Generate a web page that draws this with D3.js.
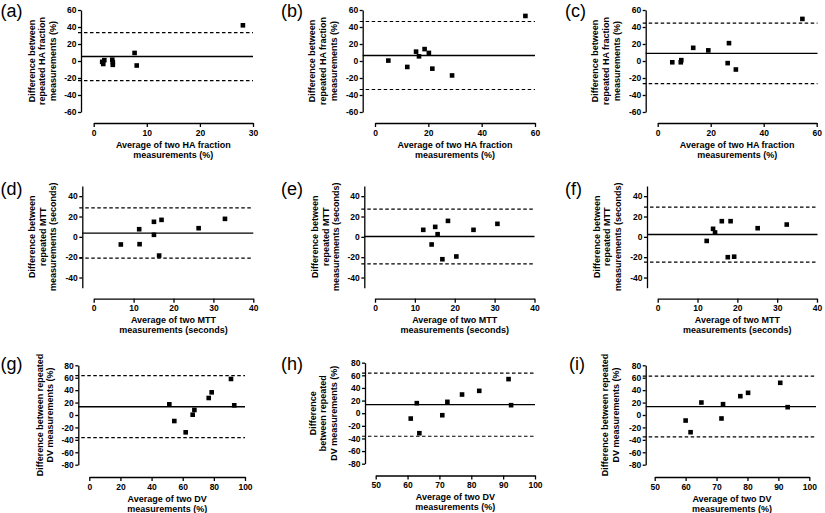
<!DOCTYPE html>
<html><head><meta charset="utf-8">
<script src="https://cdn.jsdelivr.net/npm/d3@7"></script>
<style>
body{margin:0;background:#fff}
svg{display:block}
text{font-family:"Liberation Sans",Arial,Helvetica,sans-serif;fill:#000}
</style>
</head><body>
<svg width="825" height="513"></svg>
<script>
// ---------------- DATA ----------------
const panelLabels = ["(a)","(b)","(c)","(d)","(e)","(f)","(g)","(h)","(i)"];

const aX = [1.6, 1.8, 2.0, 3.5, 3.6, 3.6, 7.7, 8.1, 28.1];
const aY = [-1, -3.5, 1, 1.5, -1.5, -4.5, 9.5, -5.3, 42];
const bX = [5.0, 12.1, 15.4, 16.5, 18.6, 20.2, 21.5, 28.9, 56.4];
const bY = [0.5, -7, 11, 5.5, 14, 9.5, -9, -17, 53];
const cX = [5.5, 8.7, 8.9, 13.4, 19.1, 26.4, 26.9, 29.5, 54.6];
const cY = [-1.5, -1.5, 1, 15.5, 12.5, -2.5, 21, -10, 49.5];
const dX = [6.8, 11.4, 11.5, 15.1, 15.1, 17.0, 16.4, 26.3, 32.9];
const dY = [-7.5, 7.5, -7.2, 14.8, 2, 16.7, -18.4, 8.5, 17.7];
const eX = [12.1, 15.1, 15.7, 14.2, 18.3, 16.9, 20.4, 24.7, 30.7];
const eY = [6.9, 9.8, 2.6, -7.5, 15.7, -22, -19.3, 6.9, 12.8];
const fX = [12.3, 13.9, 14.4, 16.1, 18.3, 17.6, 19.2, 25.1, 32.4];
const fY = [-4, 7.9, 4.3, 15.4, 15.4, -20, -19.5, 8.5, 12.1];
const gX = [51.4, 54.6, 61.9, 66.4, 67.5, 76.7, 78.6, 91.0, 93.1];
const gY = [17.2, -9.7, -27.9, 0.5, 8.1, 27.4, 36.5, 58, 15.6];
const hX = [61.0, 62.9, 63.7, 70.9, 72.5, 77.1, 82.5, 91.7, 92.5];
const hY = [-8.5, 15.9, -31.7, -3.2, 18, 29.6, 35.4, 54, 12.7];
const iX = [60.0, 61.6, 65.1, 71.6, 72.1, 77.7, 80.2, 90.6, 93.0];
const iY = [-8.9, -27.7, 20.1, -5.6, 17.4, 30.3, 35.7, 51.8, 12.6];

const meanDiff = [5.3, 6.5, 9, 3.7, 0.3, 2.3, 13.4, 13.6, 13.5];
const upperLoA = [33.5, 46.5, 44.5, 28.5, 27.2, 29.2, 63.3, 63.5, 62.6];
const lowerLoA = [-23, -33.5, -26.5, -21, -26.6, -24.8, -36.5, -36.5, -35.2];

const yTicksHA = [-60, -40, -20, 0, 20, 40, 60];
const yTicksMTT = [-40, -20, 0, 20, 40];
const yTicksDV = [-80, -60, -40, -20, 0, 20, 40, 60, 80];
const xTicksA = [0, 10, 20, 30];
const xTicksBC = [0, 20, 40, 60];
const xTicksMTT = [0, 10, 20, 30, 40];
const xTicksG = [0, 20, 40, 60, 80, 100];
const xTicksHI = [50, 60, 70, 80, 90, 100];

const yTitleHA = ["Difference between", "repeated HA fraction", "measurements (%)"];
const yTitleMTT = ["Difference between", "repeated MTT", "measurements (seconds)"];
const yTitleDV2 = ["Difference between repeated", "DV measurements (%)"];
const yTitleDV3 = ["Difference", "between repeated", "DV measurements (%)"];
const xTitleHA = ["Average of two HA fraction", "measurements (%)"];
const xTitleMTT = ["Average of two MTT", "measurements (seconds)"];
const xTitleDV = ["Average of two DV", "measurements (%)"];

// ---------------- LAYOUT ----------------
const layout = [
  {ax:81,    x0:93.7,  x1:253,   top:10,    bot:112,   xa:123,   lx:0.5, ly:17,    lineEnd:253,   tOff:28},
  {ax:362.7, x0:375,   x1:535,   top:10,    bot:112,   xa:123,   lx:281, ly:17,    lineEnd:535,   tOff:29},
  {ax:645.7, x0:657.7, x1:816.7, top:10,    bot:112,   xa:123,   lx:565, ly:17,    lineEnd:817.5, tOff:29},
  {ax:82.3,  x0:93.7,  x1:253.3, top:186,   bot:287.7, xa:298.7, lx:0.5, ly:194.5, lineEnd:253.3, tOff:29},
  {ax:364.3, x0:375,   x1:534.5, top:186,   bot:287.7, xa:298.7, lx:281, ly:194.5, lineEnd:534.5, tOff:28},
  {ax:647,   x0:657.7, x1:817,   top:186,   bot:287.7, xa:298.7, lx:565, ly:194.5, lineEnd:817.5, tOff:29},
  {ax:78.3,  x0:89.3,  x1:245,   top:365.3, bot:464.7, xa:477,   lx:0.5, ly:370,   lineEnd:245,   tOff:28},
  {ax:365,   x0:375.7, x1:535,   top:362.7, bot:463.7, xa:475.5, lx:281, ly:370,   lineEnd:535,   tOff:31},
  {ax:645.7, x0:654.7, x1:809.3, top:365.3, bot:464.7, xa:477,   lx:569, ly:370,   lineEnd:816,   tOff:30}
];

const panels = [
  {xs:aX, ys:aY, xd:[0,30],   yd:[-60,60], xt:xTicksA,   yt:yTicksHA,  ytl:yTitleHA,  xtl:xTitleHA},
  {xs:bX, ys:bY, xd:[0,60],   yd:[-60,60], xt:xTicksBC,  yt:yTicksHA,  ytl:yTitleHA,  xtl:xTitleHA},
  {xs:cX, ys:cY, xd:[0,60],   yd:[-60,60], xt:xTicksBC,  yt:yTicksHA,  ytl:yTitleHA,  xtl:xTitleHA},
  {xs:dX, ys:dY, xd:[0,40],   yd:[-50,50], xt:xTicksMTT, yt:yTicksMTT, ytl:yTitleMTT, xtl:xTitleMTT},
  {xs:eX, ys:eY, xd:[0,40],   yd:[-50,50], xt:xTicksMTT, yt:yTicksMTT, ytl:yTitleMTT, xtl:xTitleMTT},
  {xs:fX, ys:fY, xd:[0,40],   yd:[-50,50], xt:xTicksMTT, yt:yTicksMTT, ytl:yTitleMTT, xtl:xTitleMTT},
  {xs:gX, ys:gY, xd:[0,100],  yd:[-80,80], xt:xTicksG,   yt:yTicksDV,  ytl:yTitleDV2, xtl:xTitleDV},
  {xs:hX, ys:hY, xd:[50,100], yd:[-80,80], xt:xTicksHI,  yt:yTicksDV,  ytl:yTitleDV3, xtl:xTitleDV},
  {xs:iX, ys:iY, xd:[50,100], yd:[-80,80], xt:xTicksHI,  yt:yTicksDV,  ytl:yTitleDV2, xtl:xTitleDV}
];

const svg = d3.select("svg");
const SQ = 4.6;

panels.forEach((p, k) => {
  const L = layout[k];
  const g = svg.append("g");
  const x = d3.scaleLinear().domain(p.xd).range([L.x0, L.x1]);
  const y = d3.scaleLinear().domain(p.yd).range([L.bot, L.top]);

  // y axis
  const ya = g.append("g").attr("transform", `translate(${L.ax},0)`)
    .call(d3.axisLeft(y).tickValues(p.yt).tickSize(3).tickSizeOuter(0).tickPadding(1.5).tickFormat(d => String(d)));
  // x axis
  const xa = g.append("g").attr("transform", `translate(0,${L.xa})`)
    .call(d3.axisBottom(x).tickValues(p.xt).tickSize(4).tickSizeOuter(0).tickPadding(2.5).tickFormat(d => String(d)));
  [ya, xa].forEach(a => {
    a.select(".domain").attr("stroke", "#000").attr("stroke-width", 1.3);
    a.selectAll(".tick line").attr("stroke", "#000").attr("stroke-width", 1.3);
    a.selectAll(".tick text").attr("font-family", '"Liberation Sans",Arial,sans-serif')
      .attr("font-size", 8.5).attr("font-weight", "bold").attr("fill", "#000");
  });

  // limits of agreement + mean
  g.append("line").attr("x1", L.ax - 3).attr("x2", L.lineEnd)
    .attr("y1", y(upperLoA[k])).attr("y2", y(upperLoA[k]))
    .attr("stroke", "#000").attr("stroke-width", 1.2).attr("stroke-dasharray", "3.5,2.5");
  g.append("line").attr("x1", L.ax - 3).attr("x2", L.lineEnd)
    .attr("y1", y(lowerLoA[k])).attr("y2", y(lowerLoA[k]))
    .attr("stroke", "#000").attr("stroke-width", 1.2).attr("stroke-dasharray", "3.5,2.5");
  g.append("line").attr("x1", L.ax).attr("x2", L.lineEnd)
    .attr("y1", y(meanDiff[k])).attr("y2", y(meanDiff[k]))
    .attr("stroke", "#000").attr("stroke-width", 1.4);

  // points
  g.selectAll("rect.pt").data(p.xs.map((v, i) => [v, p.ys[i]])).enter()
    .append("rect").attr("class", "pt")
    .attr("x", d => x(d[0]) - SQ / 2).attr("y", d => y(d[1]) - SQ / 2)
    .attr("width", SQ).attr("height", SQ).attr("fill", "#000");

  // y title
  const cy = (L.top + L.bot) / 2;
  const n = p.ytl.length;
  p.ytl.forEach((t, i) => {
    const cx = L.ax - L.tOff - (n - 1 - i) * 10.7;
    g.append("text").attr("transform", `translate(${cx + 3},${cy}) rotate(-90)`)
      .attr("text-anchor", "middle").attr("font-size", 9).attr("font-weight", "bold").text(t);
  });

  // x title
  const mx = (L.x0 + L.x1) / 2;
  p.xtl.forEach((t, i) => {
    g.append("text").attr("x", mx).attr("y", L.xa + 24.5 + i * 10)
      .attr("text-anchor", "middle").attr("font-size", 9).attr("font-weight", "bold").text(t);
  });

  // panel label
  g.append("text").attr("x", L.lx).attr("y", L.ly).attr("font-size", 18).text(panelLabels[k]);
});
</script>
</body></html>
